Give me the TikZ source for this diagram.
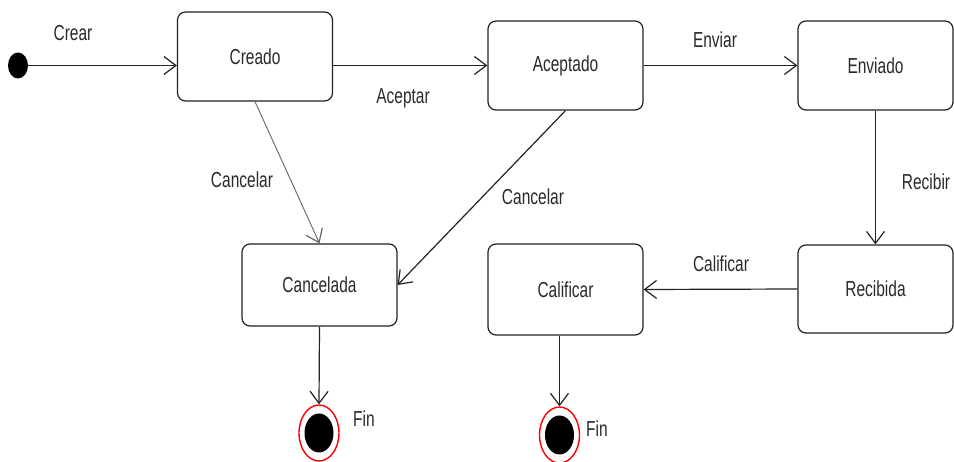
\documentclass[tikz,border=0pt]{standalone}
\usepackage{fontspec}
\setmainfont{Liberation Sans}
\usetikzlibrary{arrows.meta,shapes.geometric}
\newcommand{\tl}[1]{\scalebox{1}[1.4]{#1}}
\definecolor{ln}{HTML}{222222}
\definecolor{tx}{HTML}{2A2A2A}
\definecolor{finred}{HTML}{FF0000}
\begin{document}
\begin{tikzpicture}[x=1pt,y=-1pt,
  state/.style={draw=ln, line width=1.2pt, rounded corners=8pt, minimum width=155pt,
    inner sep=0pt, font=\fontsize{15.5}{18}\selectfont, text=tx, fill=white},
  lbl/.style={font=\fontsize{15.5}{18}\selectfont, text=tx, inner sep=0pt},
  tip/.tip={Straight Barb[length=12pt,width=18pt,line width=1.2pt]},
  tr/.style={draw=ln, line width=1.2pt, -tip},
  trg/.style={draw=ln!70, line width=0.9pt, -tip},
  finout/.style={ellipse, draw=finred, line width=1.4pt, fill=white, minimum width=40pt, minimum height=56pt, inner sep=0pt},
]
\useasboundingbox (0,0) rectangle (954,462);

% states
\node[state, minimum height=89pt] (creado) at (255,56.5) {\tl{Creado}};
\node[state, minimum height=89pt] (aceptado) at (565.5,65.5) {\tl{Aceptado}};
\node[state, minimum height=89pt] (enviado) at (875.5,65.5) {\tl{Enviado}};
\node[state, minimum height=88pt] (recibida) at (875.5,289) {\tl{Recibida}};
\node[state, minimum height=91pt] (calificar) at (565.5,289.5) {\tl{Calificar}};
\node[state, minimum height=82pt] (cancelada) at (319.5,285) {\tl{Cancelada}};

% initial and final states
\node[ellipse, fill=black, minimum width=20pt, minimum height=26pt, inner sep=0pt] (start) at (18,65.5) {};
\node[finout] (fin1) at (319,433) {};
\fill[black] (fin1.center) ellipse (14.5 and 19.5);
\node[finout] (fin2) at (559.5,435) {};
\fill[black] (fin2.center) ellipse (14.5 and 19.5);

% transitions
\draw[tr] (start.east) -- (start -| creado.west);
\draw[tr] (creado.east |- aceptado) -- (aceptado.west);
\draw[tr] (aceptado.east) -- (enviado.west);
\draw[tr] (enviado.south) -- (recibida.north);
\draw[tr] (recibida.west) -- (calificar.east);
\draw[trg] (creado.south) -- (cancelada.north);
\draw[tr] (aceptado.south) -- (cancelada.east);
\draw[tr] (cancelada.south) -- (fin1.north);
\coordinate (c2) at (fin2 |- calificar.south);
\draw[tr] (c2) -- (fin2.north);

% labels
\node[lbl] (lcrear) at (73,33) {\tl{Crear}};
\node[lbl] (lacep) at (403,98) {\tl{Aceptar}};
\node[lbl] (lenv) at (715,40) {\tl{Enviar}};
\node[lbl] (lrec) at (926,182) {\tl{Recibir}};
\node[lbl] (lcal) at (721,264) {\tl{Calificar}};
\node[lbl] (lcan1) at (242,180) {\tl{Cancelar}};
\node[lbl] (lcan2) at (533,197) {\tl{Cancelar}};
\node[lbl] (lfin1) at (364,419) {\tl{Fin}};
\node[lbl] (lfin2) at (597,429) {\tl{Fin}};
\end{tikzpicture}
\end{document}
